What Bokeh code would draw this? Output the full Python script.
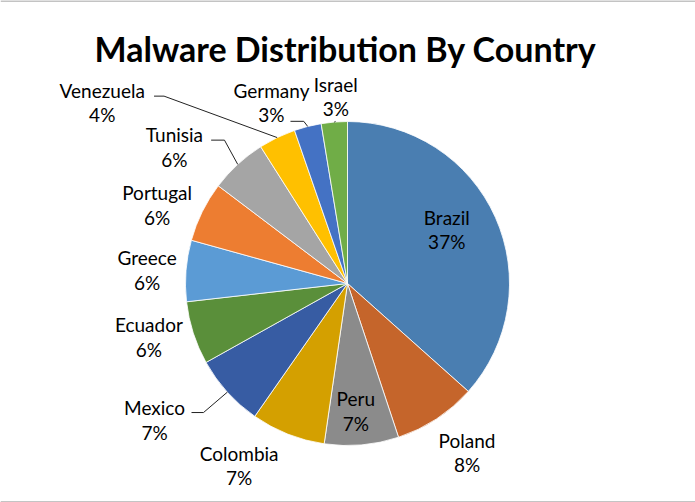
import math
from bokeh.plotting import figure
from bokeh.models import Range1d, ColumnDataSource
from bokeh.core.properties import value
from bokeh.embed import file_html
from bokeh.resources import INLINE

# ---- data ----
countries = ["Brazil", "Poland", "Peru", "Colombia", "Mexico", "Ecuador",
             "Greece", "Portugal", "Tunisia", "Venezuela", "Germany", "Israel"]
shares = [36.6, 8.3, 7.4, 7.4, 7.2, 6.3, 6.1, 6.0, 5.7, 3.7, 2.7, 2.6]
colors = ["#4A7EB1", "#C5652B", "#8B8B8B", "#D4A000", "#375CA3", "#5A8F3A",
          "#5B9BD5", "#ED7D31", "#A5A5A5", "#FFC000", "#4472C4", "#70AD47"]
title_text = "Malware Distribution By Country"

# ---- layout (pixel space, y down) ----
W, H = 695, 502
CX, CY = 347, 283
R = 162
label_r = [0.696, 1.28, 0.79, 1.31, 1.46, 1.27, 1.24, 1.27, 1.36, 1.88, 1.21, 1.155]
label_shift = [-4.2, -1.9, 1.3, 9.1, 6.8, 2.7, -0.7, -4.0, -9.1, -27.9, -8.6, 1.1]
# leader lines: (label index) -> (start offset, elbow offset) relative to label anchor
leaders = {
    9: ((51.8, -6.8), (61.8, -6.8)),
    8: ((36.7, -7.0), (50.0, -7.0)),
    10: ((19.0, 18.5), (32.3, 18.5)),
    4: ((37.0, -7.7), (49.0, -7.7)),
    11: ((-0.3, 24.7), (-0.3, 24.7)),
}
LINE_GAP = 24.7
CAP = 13.3
LABEL_FS = 19.0
TITLE_FS = 34.0
BASE_FIX = 0.37  # renderer baseline correction, in em


def fy(py):
    return H - py


total = sum(shares)
theta_start, theta_end, mids = [], [], []
acc = 0.0
for v in shares:
    t0 = acc / total * 360.0
    acc += v
    t1 = acc / total * 360.0
    theta_start.append(t0)
    theta_end.append(t1)
    mids.append((t0 + t1) / 2)

pct = [f"{round(v / total * 100)}%" for v in shares]

src = ColumnDataSource(dict(
    country=countries,
    color=colors,
    start=[math.radians(90 - t) for t in theta_end],
    end=[math.radians(90 - t) for t in theta_start],
))

p = figure(width=W, height=H, output_backend="svg", toolbar_location=None,
           x_range=Range1d(0, W), y_range=Range1d(0, H), min_border=0,
           outline_line_color=None, background_fill_color="white",
           border_fill_color="white")
p.axis.visible = False
p.grid.visible = False

p.wedge(x=CX, y=fy(CY), radius=R, start_angle="start", end_angle="end",
        fill_color="color", line_color="white", line_width=0.8, source=src)

# labels
lx, ly1, ly2 = [], [], []
fix = BASE_FIX * LABEL_FS
for i, m in enumerate(mids):
    a = math.radians(m + label_shift[i])
    x = CX + label_r[i] * R * math.sin(a)
    yc = CY - label_r[i] * R * math.cos(a)
    lx.append(x)
    top = yc - (CAP + LINE_GAP) / 2
    ly1.append(fy(top + CAP - fix))
    ly2.append(fy(top + CAP + LINE_GAP - fix))
    if i in leaders:
        (sx, sy), (ex, ey) = leaders[i]
        am = math.radians(m)
        px = CX + R * math.sin(am)
        py = CY - R * math.cos(am)
        p.line(x=[x + sx, x + ex, px], y=[fy(yc + sy), fy(yc + ey), fy(py)],
               line_color="#222222", line_width=1)

lab = ColumnDataSource(dict(x=lx, y1=ly1, y2=ly2, name=countries, pct=pct))
for col, ycol in (("name", "y1"), ("pct", "y2")):
    p.text(x="x", y=ycol, text=col, source=lab, text_align="center",
           text_baseline="alphabetic", text_font=value("Lato"),
           text_font_size=f"{LABEL_FS}px", text_color="#000000")

# title
p.text(x=[345], y=[fy(58.3 - 0.31 * TITLE_FS)], text=[title_text],
       text_align="center", text_baseline="alphabetic", text_font=value("Lato"),
       text_font_style="bold", text_font_size=f"{TITLE_FS}px",
       text_color="#000000")

# frame lines top/bottom
p.line(x=[0, W], y=[H - 0.5, H - 0.5], line_color="#888888", line_width=1)
p.line(x=[0, W], y=[0.5, 0.5], line_color="#888888", line_width=1)

open("out.html", "w").write(file_html(p, INLINE))
